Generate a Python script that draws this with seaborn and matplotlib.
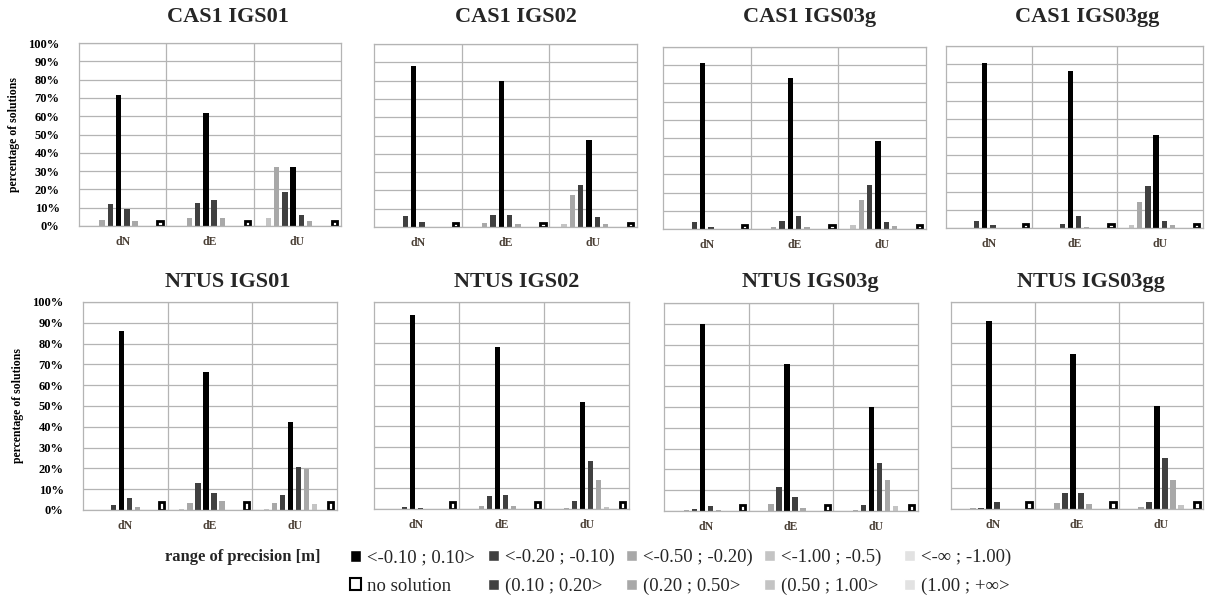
import numpy as np
import pandas as pd
import matplotlib
matplotlib.use("Agg")
import matplotlib.pyplot as plt
from matplotlib.ticker import MultipleLocator, FuncFormatter, FixedLocator
import seaborn as sns

components = ["dN", "dE", "dU"]
ranges = ["<-∞ ; -1.00)", "<-1.00 ; -0.5)", "<-0.50 ; -0.20)", "<-0.20 ; -0.10)",
          "<-0.10 ; 0.10>", "(0.10 ; 0.20>", "(0.20 ; 0.50>", "(0.50 ; 1.00>",
          "(1.00 ; +∞>", "no solution"]

# values in % ; rows: dN, dE, dU ; columns follow `ranges`
cas1_igs01 = [[0, 0, 3.1, 12.2, 71.5, 9.5, 2.5, 0, 0, 2.5],
              [0, 0, 4.5, 12.3, 61.5, 14.3, 4.5, 0, 0, 2.5],
              [0, 4.5, 32.5, 18.8, 32.0, 6.0, 2.8, 0, 0, 2.5]]
cas1_igs02 = [[0, 0, 0, 5.8, 87.8, 2.8, 0, 0, 0, 2.3],
              [0, 0, 2.2, 6.8, 80.0, 6.8, 1.5, 0, 0, 2.3],
              [0, 1.5, 17.5, 22.8, 47.5, 5.2, 1.5, 0, 0, 2.3]]
cas1_igs03g = [[0, 0, 0, 3.8, 91.0, 1.0, 0, 0, 0, 2.3],
               [0, 0, 1.0, 4.6, 82.8, 6.9, 1.0, 0, 0, 2.3],
               [0, 2.0, 16.0, 24.0, 48.5, 3.6, 1.4, 0, 0, 2.3]]
cas1_igs03gg = [[0, 0, 0, 3.8, 90.8, 1.4, 0, 0, 0, 2.3],
                [0, 0, 0, 2.0, 86.0, 6.7, 0.5, 0, 0, 2.3],
                [0, 1.8, 14.5, 23.0, 51.0, 3.8, 1.4, 0, 0, 2.3]]
ntus_igs01 = [[0, 0, 0, 2.2, 86.2, 6.0, 1.6, 0, 0, 4.0],
              [0, 0.5, 3.2, 12.8, 66.5, 8.0, 4.5, 0, 0, 4.0],
              [0, 0.3, 3.2, 7.0, 42.2, 20.7, 19.9, 2.7, 0, 4.0]]
ntus_igs02 = [[0, 0, 0, 1.0, 93.5, 0.6, 0, 0, 0, 3.5],
              [0, 0, 1.6, 6.4, 78.5, 6.9, 1.3, 0, 0, 3.5],
              [0, 0, 0.6, 4.0, 51.5, 23.4, 14.1, 1.0, 0, 3.5]]
ntus_igs03g = [[0, 0, 0.6, 0.8, 90.0, 2.4, 0.5, 0, 0, 3.0],
               [0, 0, 3.3, 11.5, 70.5, 6.8, 1.3, 0, 0, 3.0],
               [0, 0, 0.6, 2.7, 50.0, 23.0, 15.0, 2.3, 0, 3.0]]
ntus_igs03gg = [[0, 0, 0.3, 0.6, 91.0, 3.4, 0, 0, 0, 3.5],
                [0, 0, 2.9, 7.7, 74.8, 7.7, 2.3, 0, 0, 3.5],
                [0, 0, 1.0, 3.2, 50.0, 24.6, 13.8, 1.9, 0, 3.5]]

panel_titles = ["CAS1 IGS01", "CAS1 IGS02", "CAS1 IGS03g", "CAS1 IGS03gg",
                "NTUS IGS01", "NTUS IGS02", "NTUS IGS03g", "NTUS IGS03gg"]
panel_values = [cas1_igs01, cas1_igs02, cas1_igs03g, cas1_igs03gg,
                ntus_igs01, ntus_igs02, ntus_igs03g, ntus_igs03gg]

colors = ["#e2e2e2", "#c4c4c4", "#a8a8a8", "#404040", "#000000",
          "#404040", "#a8a8a8", "#c4c4c4", "#e2e2e2", "#ffffff"]
palette = dict(zip(ranges, colors))

rows = []
for title, vals in zip(panel_titles, panel_values):
    for comp, rowvals in zip(components, vals):
        for rng, v in zip(ranges, rowvals):
            rows.append({"panel": title, "component": comp, "range": rng, "value": v})
df = pd.DataFrame(rows)

sns.set_theme(style="white")
SERIF = ["Liberation Serif", "DejaVu Serif"]
plt.rcParams["font.family"] = SERIF

W, H = 1205, 598
fig = plt.figure(figsize=(W / 100, H / 100), dpi=100)

# panel boxes in pixels: left, top, right, bottom
boxes = [(79, 43, 341, 226), (374, 44, 637, 227), (663, 47, 926, 229), (946, 46, 1203, 228),
         (83, 302, 337, 510), (374, 302, 629, 509), (664, 303, 918, 511), (951, 302, 1203, 509)]
title_pos = [(228, 17), (516, 17), (810, 17), (1087, 17),
             (228, 282), (517, 282), (810, 282), (1091, 282)]

axes = []
for i, (title, box) in enumerate(zip(panel_titles, boxes)):
    l, t, r, b = box
    ax = fig.add_axes([l / W, 1 - b / H, (r - l) / W, (b - t) / H])
    sub = df[df["panel"] == title]
    sns.barplot(data=sub, x="component", y="value", hue="range", hue_order=ranges,
                order=components, palette=palette, saturation=1, width=0.95, gap=0.35,
                ax=ax, legend=(i == 0), errorbar=None)
    for j, cont in enumerate(ax.containers):
        for p in cont:
            if j == len(ranges) - 1:
                p.set_edgecolor("black")
                p.set_linewidth(2.0)
            else:
                p.set_linewidth(0)
    ax.set_xlim(-0.5, 2.5)
    ax.set_ylim(0, 100)
    ax.yaxis.set_major_locator(MultipleLocator(10))
    ax.yaxis.set_major_formatter(FuncFormatter(lambda v, _: f"{v:.0f}%"))
    ax.xaxis.set_minor_locator(FixedLocator([0.5, 1.5]))
    ax.set_axisbelow(True)
    ax.grid(axis="y", which="major", color="#b4b4b4", linewidth=0.9)
    ax.grid(axis="x", which="minor", color="#b4b4b4", linewidth=0.9)
    ax.grid(axis="x", which="major", visible=False)
    for s in ax.spines.values():
        s.set_color("#b4b4b4")
        s.set_linewidth(0.9)
    ax.tick_params(axis="both", which="both", length=0)
    ax.tick_params(axis="x", pad=7)
    ax.set_xlabel("")
    for lab in ax.get_xticklabels():
        lab.set_fontfamily(SERIF)
        lab.set_fontweight("bold")
        lab.set_fontsize(8.5)
        lab.set_color("#4a3f35")
    if i % 4 == 0:
        ax.set_ylabel("percentage of solutions", fontsize=8.5, fontweight="bold",
                      family=SERIF, color="black", labelpad=6)
        for lab in ax.get_yticklabels():
            lab.set_fontfamily(SERIF)
            lab.set_fontweight("bold")
            lab.set_fontsize(9)
            lab.set_color("black")
        ax.tick_params(axis="y", pad=14)
    else:
        ax.set_ylabel("")
        ax.tick_params(axis="y", labelleft=False)
    tx, ty = title_pos[i]
    fig.text(tx / W, 1 - ty / H, title, ha="center", va="center", fontsize=16,
             fontweight="bold", family=SERIF)
    axes.append(ax)

leg = axes[0].get_legend()
handles = list(leg.legend_handles)
labels = [t.get_text() for t in leg.get_texts()]
leg.remove()
handles[-1].set_edgecolor("black")
handles[-1].set_linewidth(1.5)

# legend columns: (top entry, bottom entry) and left x position in pixels
legend_cols = [((4, 9), 350), ((3, 5), 488), ((2, 6), 626), ((1, 7), 764), ((0, 8), 904)]
for (a, b), x in legend_cols:
    fig.legend([handles[a], handles[b]], [labels[a], labels[b]], ncol=1,
               loc="center left", bbox_to_anchor=(x / W, 1 - 572 / H), frameon=False,
               borderpad=0, borderaxespad=0, handlelength=0.6, handleheight=0.6,
               handletextpad=0.3, labelspacing=0.62,
               prop={"family": SERIF, "size": 13.5})

fig.text(165 / W, 1 - 557 / H, "range of precision [m]", ha="left", va="center",
         fontsize=12, fontweight="bold", family=SERIF)

fig.savefig("out.png", dpi=100)
